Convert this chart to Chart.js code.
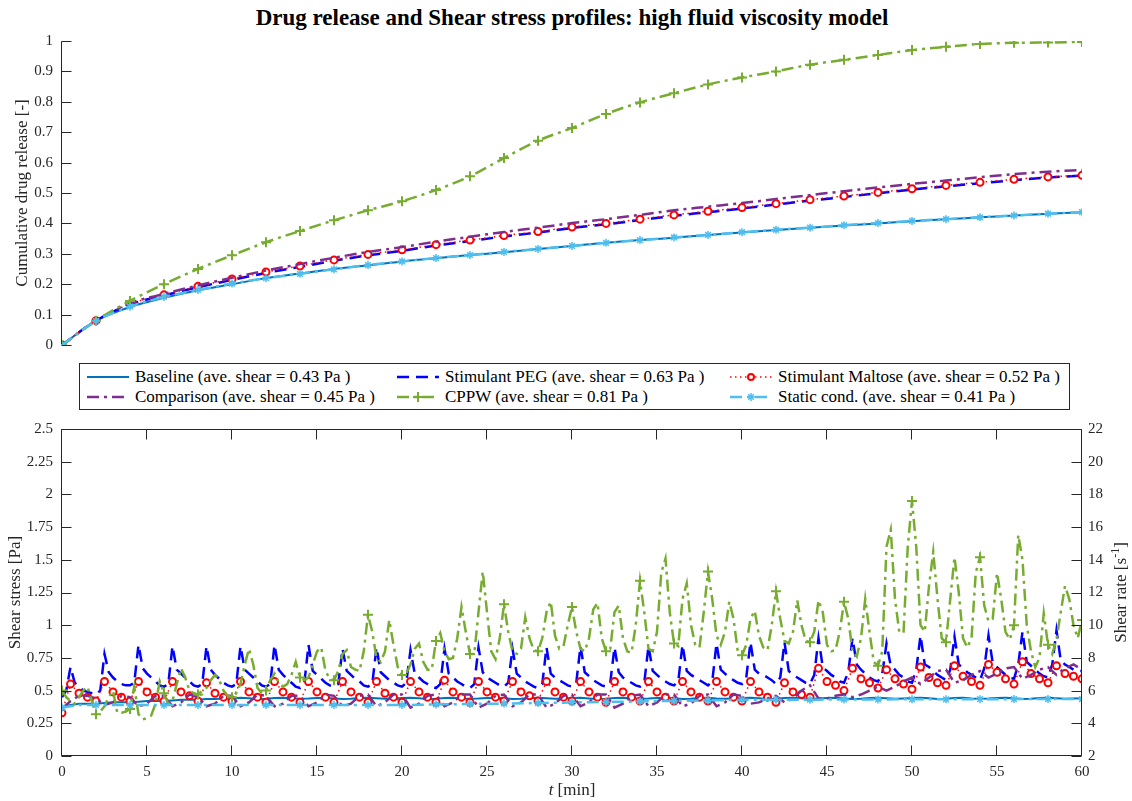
<!DOCTYPE html>
<html>
<head>
<meta charset="utf-8">
<title>Drug release and Shear stress profiles</title>
<script src="https://cdn.jsdelivr.net/npm/chart.js@4.4.1/dist/chart.umd.min.js"></script>
<style>
  html, body { margin: 0; padding: 0; background: #fff; }
  body { position: relative; width: 1132px; height: 801px; overflow: hidden;
         font-family: "Liberation Serif", "Times New Roman", serif; color: #262626; }
  #title { position: absolute; left: 0; top: 5px; width: 1144px; text-align: center;
           font-size: 23px; font-weight: bold; color: #000; line-height: 26px; }
  canvas { position: absolute; left: 0; }
  #cTop { top: 0; }
  #cBottom { top: 410px; }
  #legend { position: absolute; left: 79px; top: 363px; width: 989px; height: 45px;
            border: 1px solid #262626; background: #fff; }
  .item { position: absolute; display: flex; align-items: center; height: 20px;
          font-size: 17px; white-space: nowrap; color: #000; }
  .item svg { margin-right: 6px; }
</style>
</head>
<body>
<div id="title">Drug release and Shear stress profiles: high fluid viscosity model</div>
<canvas id="cTop" width="1132" height="363"></canvas>
<canvas id="cBottom" width="1132" height="391"></canvas>
<div id="legend"></div>

<script>
// ---- series names (legend order) ----
const seriesNames = [
  'Baseline (ave. shear = 0.43 Pa )',
  'Stimulant PEG (ave. shear = 0.63 Pa )',
  'Stimulant Maltose (ave. shear = 0.52 Pa )',
  'Comparison (ave. shear = 0.45 Pa )',
  'CPPW (ave. shear = 0.81 Pa )',
  'Static cond. (ave. shear = 0.41 Pa )'
];

// ---- top panel: cumulative drug release, sampled every 2 min ----
const tTop = [0, 2, 4, 6, 8, 10, 12, 14, 16, 18, 20, 22, 24, 26, 28, 30,
              32, 34, 36, 38, 40, 42, 44, 46, 48, 50, 52, 54, 56, 58, 60];
const relBaseline = [0, 0.08, 0.125, 0.155, 0.18, 0.2, 0.22, 0.235, 0.25, 0.262, 0.275, 0.285, 0.296, 0.305, 0.316, 0.326,
                     0.336, 0.345, 0.353, 0.362, 0.37, 0.378, 0.386, 0.393, 0.4, 0.407, 0.414, 0.42, 0.426, 0.432, 0.437];
const relPeg = [0, 0.08, 0.133, 0.163, 0.19, 0.214, 0.237, 0.257, 0.277, 0.295, 0.31, 0.327, 0.342, 0.357, 0.37, 0.385,
                0.397, 0.411, 0.425, 0.437, 0.449, 0.462, 0.475, 0.487, 0.499, 0.511, 0.522, 0.532, 0.542, 0.551, 0.557];
const relMaltose = [0, 0.08, 0.135, 0.165, 0.193, 0.217, 0.24, 0.26, 0.28, 0.298, 0.313, 0.33, 0.345, 0.36, 0.373, 0.388,
                    0.4, 0.414, 0.428, 0.44, 0.452, 0.465, 0.478, 0.49, 0.502, 0.514, 0.525, 0.535, 0.545, 0.553, 0.558];
const relComparison = [0, 0.08, 0.137, 0.168, 0.196, 0.221, 0.245, 0.266, 0.287, 0.306, 0.322, 0.34, 0.356, 0.372, 0.386, 0.401,
                       0.414, 0.428, 0.443, 0.455, 0.467, 0.48, 0.493, 0.506, 0.518, 0.53, 0.541, 0.552, 0.562, 0.57, 0.576];
const relCppw = [0, 0.08, 0.145, 0.2, 0.25, 0.295, 0.338, 0.375, 0.41, 0.443, 0.473, 0.51, 0.555, 0.615, 0.672, 0.714,
                 0.76, 0.798, 0.828, 0.857, 0.88, 0.9, 0.922, 0.938, 0.954, 0.97, 0.981, 0.99, 0.994, 0.995, 0.997];
const relStatic = [0, 0.079, 0.126, 0.158, 0.181, 0.202, 0.22, 0.234, 0.249, 0.263, 0.275, 0.286, 0.296, 0.306, 0.316, 0.326,
                   0.336, 0.345, 0.354, 0.362, 0.371, 0.379, 0.386, 0.394, 0.401, 0.408, 0.414, 0.42, 0.426, 0.432, 0.437];

// ---- bottom panel: shear stress [Pa] ----
// sample times: every 0.5 min and every 0.25 min
const tHalf = Array.from({ length: 121 }, (_, i) => i * 0.5);
const tQuarter = Array.from({ length: 241 }, (_, i) => i * 0.25);

const shearBaseline = [ // every 0.5 min
  0.37, 0.39, 0.4, 0.4, 0.4, 0.405, 0.41, 0.41, 0.41, 0.415, 0.42, 0.42, 0.42, 0.425, 0.43, 0.43, 0.43, 0.435, 0.435, 0.44,
  0.44, 0.445, 0.442, 0.436, 0.438, 0.443, 0.446, 0.441, 0.437, 0.439, 0.444, 0.445, 0.44, 0.436, 0.438, 0.443, 0.445, 0.441, 0.437, 0.44,
  0.444, 0.446, 0.441, 0.436, 0.438, 0.443, 0.445, 0.44, 0.437, 0.439, 0.444, 0.445, 0.441, 0.436, 0.438, 0.443, 0.446, 0.441, 0.437, 0.44,
  0.444, 0.445, 0.44, 0.436, 0.438, 0.443, 0.445, 0.441, 0.437, 0.439, 0.444, 0.446, 0.441, 0.436, 0.438, 0.443, 0.445, 0.44, 0.437, 0.44,
  0.444, 0.445, 0.441, 0.436, 0.438, 0.443, 0.446, 0.441, 0.437, 0.439, 0.444, 0.445, 0.44, 0.436, 0.438, 0.443, 0.445, 0.441, 0.437, 0.44,
  0.444, 0.446, 0.441, 0.436, 0.438, 0.443, 0.445, 0.44, 0.437, 0.439, 0.444, 0.445, 0.441, 0.436, 0.438, 0.443, 0.446, 0.441, 0.437, 0.44,
  0.442
];
const shearPeg = [ // every 0.25 min
  0.45, 0.5, 0.68, 0.56, 0.53, 0.5, 0.49, 0.48,
  0.47, 0.5, 0.78, 0.64, 0.6, 0.57, 0.55, 0.54,
  0.54, 0.56, 0.85, 0.67, 0.63, 0.6, 0.57, 0.54,
  0.53, 0.55, 0.84, 0.66, 0.63, 0.6, 0.57, 0.54,
  0.53, 0.55, 0.84, 0.66, 0.62, 0.59, 0.56, 0.54,
  0.53, 0.55, 0.84, 0.66, 0.63, 0.6, 0.57, 0.54,
  0.53, 0.55, 0.85, 0.66, 0.62, 0.59, 0.56, 0.53,
  0.52, 0.55, 0.85, 0.65, 0.62, 0.59, 0.56, 0.54,
  0.53, 0.55, 0.82, 0.65, 0.62, 0.59, 0.57, 0.54,
  0.53, 0.55, 0.83, 0.64, 0.61, 0.58, 0.56, 0.54,
  0.53, 0.56, 0.81, 0.63, 0.6, 0.57, 0.55, 0.53,
  0.52, 0.55, 0.82, 0.63, 0.6, 0.57, 0.55, 0.53,
  0.52, 0.55, 0.83, 0.64, 0.6, 0.58, 0.56, 0.54,
  0.53, 0.56, 0.82, 0.63, 0.6, 0.57, 0.55, 0.53,
  0.52, 0.55, 0.83, 0.63, 0.6, 0.58, 0.56, 0.54,
  0.53, 0.56, 0.84, 0.64, 0.61, 0.58, 0.56, 0.54,
  0.53, 0.56, 0.83, 0.64, 0.6, 0.58, 0.56, 0.54,
  0.53, 0.56, 0.84, 0.65, 0.62, 0.59, 0.57, 0.55,
  0.54, 0.57, 0.85, 0.65, 0.62, 0.6, 0.58, 0.56,
  0.54, 0.57, 0.86, 0.66, 0.63, 0.6, 0.58, 0.56,
  0.55, 0.6, 0.87, 0.66, 0.63, 0.62, 0.6, 0.58,
  0.55, 0.6, 0.87, 0.65, 0.62, 0.6, 0.58, 0.56,
  0.55, 0.62, 0.9, 0.68, 0.65, 0.62, 0.6, 0.57,
  0.56, 0.64, 0.9, 0.7, 0.66, 0.63, 0.6, 0.58,
  0.57, 0.63, 0.86, 0.69, 0.66, 0.62, 0.6, 0.57,
  0.56, 0.66, 0.92, 0.7, 0.68, 0.65, 0.62, 0.6,
  0.58, 0.66, 0.91, 0.7, 0.67, 0.64, 0.62, 0.6,
  0.58, 0.67, 0.92, 0.71, 0.68, 0.65, 0.62, 0.6,
  0.59, 0.7, 0.95, 0.72, 0.69, 0.66, 0.63, 0.61,
  0.6, 0.7, 0.96, 0.73, 0.7, 0.68, 0.66, 0.65,
  0.65
];
const shearMaltose = [ // every 0.5 min
  0.33, 0.55, 0.48, 0.45, 0.42, 0.57, 0.49, 0.45, 0.42, 0.57, 0.49, 0.45, 0.42, 0.57, 0.49, 0.46,
  0.42, 0.56, 0.48, 0.45, 0.42, 0.57, 0.49, 0.45, 0.41, 0.57, 0.49, 0.45, 0.41, 0.57, 0.49, 0.45,
  0.41, 0.57, 0.49, 0.45, 0.41, 0.57, 0.48, 0.45, 0.41, 0.57, 0.49, 0.45, 0.41, 0.58, 0.49, 0.45,
  0.41, 0.57, 0.49, 0.45, 0.42, 0.57, 0.49, 0.46, 0.42, 0.57, 0.49, 0.45, 0.42, 0.57, 0.49, 0.45,
  0.41, 0.57, 0.49, 0.45, 0.42, 0.57, 0.49, 0.45, 0.42, 0.57, 0.49, 0.45, 0.42, 0.57, 0.49, 0.45,
  0.42, 0.57, 0.49, 0.45, 0.41, 0.56, 0.49, 0.47, 0.45, 0.67, 0.57, 0.54, 0.5, 0.67, 0.59, 0.56,
  0.52, 0.66, 0.59, 0.55, 0.51, 0.68, 0.6, 0.56, 0.54, 0.69, 0.61, 0.57, 0.54, 0.7, 0.64, 0.59,
  0.55, 0.72, 0.63, 0.59, 0.56, 0.69, 0.63, 0.61, 0.59
];
const shearComparison = [ // every 0.5 min
  0.36, 0.42, 0.46, 0.46, 0.44, 0.39, 0.41, 0.46, 0.45, 0.38, 0.4, 0.46, 0.46, 0.38, 0.41, 0.47,
  0.45, 0.38, 0.4, 0.46, 0.46, 0.38, 0.41, 0.47, 0.46, 0.38, 0.4, 0.46, 0.46, 0.38, 0.41, 0.47,
  0.46, 0.38, 0.4, 0.46, 0.47, 0.38, 0.41, 0.47, 0.47, 0.37, 0.4, 0.46, 0.47, 0.38, 0.41, 0.47,
  0.47, 0.37, 0.4, 0.46, 0.47, 0.38, 0.41, 0.47, 0.47, 0.37, 0.4, 0.46, 0.47, 0.38, 0.41, 0.47,
  0.47, 0.37, 0.4, 0.46, 0.47, 0.38, 0.41, 0.47, 0.47, 0.38, 0.4, 0.46, 0.47, 0.38, 0.41, 0.47,
  0.46, 0.4, 0.41, 0.44, 0.46, 0.41, 0.44, 0.5, 0.54, 0.44, 0.44, 0.46, 0.47, 0.45, 0.47, 0.5,
  0.53, 0.5, 0.53, 0.57, 0.6, 0.55, 0.6, 0.65, 0.66, 0.56, 0.58, 0.62, 0.65, 0.6, 0.63, 0.67,
  0.68, 0.59, 0.62, 0.66, 0.68, 0.62, 0.67, 0.7, 0.66
];
const shearCppw = [ // every 0.25 min
  0.5, 0.45, 0.42, 0.4, 0.45, 0.5, 0.53, 0.42,
  0.32, 0.34, 0.38, 0.45, 0.5, 0.33, 0.33, 0.34,
  0.36, 0.53, 0.32, 0.28, 0.29, 0.31, 0.4, 0.57,
  0.48, 0.4, 0.42, 0.55, 0.67, 0.6, 0.5, 0.48,
  0.47, 0.5, 0.52, 0.58, 0.62, 0.58, 0.5, 0.46,
  0.45, 0.48, 0.55, 0.7, 0.82, 0.7, 0.52, 0.48,
  0.5, 0.58, 0.63, 0.56, 0.53, 0.55, 0.62, 0.72,
  0.6, 0.58, 0.6, 0.7, 0.8, 0.83, 0.65, 0.59,
  0.58, 0.65, 0.78, 0.81, 0.68, 0.66, 0.65, 0.8,
  1.08, 0.95, 0.75, 0.72, 0.8, 1.04, 0.85, 0.68,
  0.62, 0.63, 0.7, 0.82, 0.86, 0.72, 0.66, 0.66,
  0.88, 0.94, 0.8, 0.74, 0.75, 0.9, 1.14, 0.95,
  0.78, 0.78, 1.1, 1.41, 1.1, 0.8, 0.74, 0.9,
  1.16, 0.95, 0.8, 0.78, 0.82, 1.06, 0.9, 0.81,
  0.8, 0.9, 1.1, 1.18, 0.92, 0.82, 0.84, 1.0,
  1.14, 0.95, 0.82, 0.8, 0.9, 1.12, 1.17, 0.9,
  0.8, 0.82, 1.1, 1.15, 0.9, 0.8, 0.79, 1.0,
  1.34, 1.1, 0.82, 0.8, 0.95, 1.4, 1.51, 1.1,
  0.86, 0.84, 1.2, 1.32, 1.0, 0.85, 0.83, 1.1,
  1.41, 1.2, 0.92, 0.85, 0.95, 1.18, 1.05, 0.8,
  0.77, 0.85, 1.05, 1.11, 0.92, 0.83, 0.81, 1.0,
  1.26, 1.05, 0.88, 0.86, 0.95, 1.19, 1.0, 0.88,
  0.87, 0.95, 1.19, 1.1, 0.85, 0.8, 0.81, 0.95,
  1.18, 1.05, 0.8, 0.76, 0.9, 1.2, 0.95, 0.72,
  0.69, 0.8, 1.6, 1.73, 1.2, 0.95, 0.94, 1.6,
  1.95, 1.6, 1.0, 0.95, 1.3, 1.56, 1.2, 0.9,
  0.87, 1.2, 1.52, 1.25, 0.9, 0.83, 0.9, 1.4,
  1.52, 1.15, 1.03, 1.05, 1.4, 1.2, 0.95, 0.89,
  1.0, 1.69, 1.5, 1.0, 0.8, 0.68, 0.75, 1.09,
  0.85, 0.78, 0.89, 1.1, 1.3, 1.2, 1.0, 0.9,
  1.04
];
const shearStatic = [ // every 0.5 min
  0.37, 0.38, 0.39, 0.39, 0.39, 0.39, 0.39, 0.39, 0.39, 0.39, 0.39, 0.39, 0.39, 0.39, 0.39, 0.39, 0.39, 0.39, 0.39, 0.39,
  0.39, 0.39, 0.39, 0.39, 0.39, 0.39, 0.39, 0.39, 0.39, 0.39, 0.39, 0.39, 0.39, 0.39, 0.39, 0.39, 0.39, 0.39, 0.39, 0.39,
  0.39, 0.39, 0.392, 0.393, 0.394, 0.395, 0.396, 0.397, 0.398, 0.399, 0.4, 0.4, 0.401, 0.402, 0.403, 0.404, 0.405, 0.406, 0.407, 0.408,
  0.41, 0.41, 0.411, 0.412, 0.413, 0.414, 0.415, 0.416, 0.417, 0.418, 0.42, 0.42, 0.421, 0.422, 0.423, 0.424, 0.425, 0.426, 0.427, 0.428,
  0.43, 0.43, 0.43, 0.43, 0.431, 0.431, 0.431, 0.431, 0.431, 0.431, 0.432, 0.432, 0.432, 0.432, 0.432, 0.432, 0.432, 0.432, 0.433, 0.433,
  0.433, 0.433, 0.433, 0.433, 0.433, 0.434, 0.434, 0.434, 0.434, 0.434, 0.434, 0.434, 0.435, 0.435, 0.435, 0.435, 0.435, 0.435, 0.435, 0.435,
  0.435
];

// ---- styles (colour, dash, width, marker) ----
const styles = [
  { color: '#0072BD', dash: [], width: 2, marker: null },
  { color: '#0000FF', dash: [12, 7], width: 2.5, marker: null },
  { color: '#FF0000', dash: [1.5, 3.5], width: 1.5, marker: 'circle', r: 3.5, pw: 2 },
  { color: '#7E2F8E', dash: [12, 5, 3, 5], width: 2.5, marker: null },
  { color: '#77AC30', dash: [12, 5, 3, 5], width: 2.5, marker: 'cross', r: 5, pw: 2 },
  { color: '#4DBEEE', dash: [12, 5, 3, 5], width: 2.5, marker: 'star', r: 4, pw: 1.5 }
];

const FONT = '"Liberation Serif", "Times New Roman", serif';
const INK = '#262626';
const TITLE_SIZE = 17;
Chart.defaults.font.family = FONT;
Chart.defaults.color = INK;

function makeDataset(i, times, values, every, smooth) {
  const s = styles[i];
  return {
    label: seriesNames[i],
    data: times.map((t, k) => ({ x: t, y: values[k] })),
    borderColor: s.color,
    backgroundColor: s.color,
    borderWidth: s.width,
    borderDash: s.dash,
    cubicInterpolationMode: smooth ? 'monotone' : 'default',
    tension: 0,
    pointStyle: s.marker || 'circle',
    pointRadius: ctx => (s.marker && ctx.dataIndex % every === 0) ? s.r : 0,
    pointBorderColor: s.color,
    pointBackgroundColor: s.marker === 'circle' ? '#fff' : s.color,
    pointBorderWidth: s.pw || 1,
    order: 6 - i
  };
}

const fmt = v => String(+v.toFixed(2));

// MATLAB-like axes: inward ticks, optional full box and extra labels
const matlabAxes = {
  id: 'matlabAxes',
  afterDatasetsDraw(chart, _args, opts) {
    const { ctx, chartArea: a, scales } = chart;
    const L = Math.round(a.left) - 0.5, R = Math.round(a.right) - 0.5;
    const T = Math.round(a.top) + 0.5, B = Math.round(a.bottom) - 0.5;
    const tl = 10;
    ctx.save();
    ctx.strokeStyle = INK;
    ctx.lineWidth = 1;
    ctx.beginPath();
    ctx.moveTo(L, T); ctx.lineTo(L, B);
    scales.y.ticks.forEach(t => {
      const y = Math.round(scales.y.getPixelForValue(t.value)) + 0.5;
      ctx.moveTo(L, y); ctx.lineTo(L + tl, y);
    });
    if (opts.box) {
      ctx.moveTo(L, B); ctx.lineTo(R, B); ctx.lineTo(R, T); ctx.lineTo(L, T);
      scales.x.ticks.forEach(t => {
        const x = Math.round(scales.x.getPixelForValue(t.value)) - 0.5;
        ctx.moveTo(x, B); ctx.lineTo(x, B - tl);
        ctx.moveTo(x, T); ctx.lineTo(x, T + tl);
      });
      scales.y2.ticks.forEach(t => {
        const y = Math.round(scales.y2.getPixelForValue(t.value)) + 0.5;
        ctx.moveTo(R, y); ctx.lineTo(R - tl, y);
      });
    }
    ctx.stroke();

    if (opts.box) {
      const big = TITLE_SIZE + 'px ' + FONT, small = '12px ' + FONT;
      ctx.fillStyle = INK;
      ctx.textBaseline = 'middle';
      // x title: italic t [min]
      const cx = (a.left + a.right) / 2, cy = chart.height - 10;
      ctx.font = 'italic ' + big;
      const w1 = ctx.measureText('t').width;
      ctx.font = big;
      const w2 = ctx.measureText(' [min]').width;
      const x0 = cx - (w1 + w2) / 2;
      ctx.textAlign = 'left';
      ctx.font = 'italic ' + big;
      ctx.fillText('t', x0, cy);
      ctx.font = big;
      ctx.fillText(' [min]', x0 + w1, cy);

      // right title: Shear rate [s^-1]
      ctx.save();
      ctx.translate(chart.width - 10, (a.top + a.bottom) / 2);
      ctx.rotate(-Math.PI / 2);
      const p1 = 'Shear rate [s', p2 = '-1', p3 = ']';
      ctx.font = big;
      const a1 = ctx.measureText(p1).width, a3 = ctx.measureText(p3).width;
      ctx.font = small;
      const a2 = ctx.measureText(p2).width;
      let x = -(a1 + a2 + a3) / 2;
      ctx.font = big;
      ctx.fillText(p1, x, 0); x += a1;
      ctx.font = small;
      ctx.fillText(p2, x, -6); x += a2;
      ctx.font = big;
      ctx.fillText(p3, x, 0);
      ctx.restore();
    }
    ctx.restore();
  }
};

const common = {
  responsive: false,
  animation: false,
  devicePixelRatio: 1,
  events: [],
  plugins: { legend: { display: false }, tooltip: { enabled: false } }
};

// ---- top chart ----
new Chart(document.getElementById('cTop'), {
  type: 'line',
  data: {
    datasets: [
      makeDataset(0, tTop, relBaseline, 1, true),
      makeDataset(1, tTop, relPeg, 1, true),
      makeDataset(2, tTop, relMaltose, 1, true),
      makeDataset(3, tTop, relComparison, 1, true),
      makeDataset(4, tTop, relCppw, 1, true),
      makeDataset(5, tTop, relStatic, 1, true)
    ]
  },
  options: {
    ...common,
    // bottom space comes from the y-axis label padding (half label + tick padding = 18px)
    layout: { padding: { top: 41, right: 50, bottom: 0, left: 0 } },
    plugins: { ...common.plugins, matlabAxes: { box: false } },
    scales: {
      x: { type: 'linear', min: 0, max: 60, display: false },
      y: {
        min: 0, max: 1,
        afterFit: s => { s.width = 62; },
        border: { display: false },
        grid: { display: false, drawTicks: false },
        ticks: { stepSize: 0.1, padding: 9, font: { size: 15 }, color: INK, callback: fmt },
        title: { display: true, text: 'Cumulative drug release [-]', font: { size: TITLE_SIZE },
                 color: INK, padding: { top: 12, bottom: 0 } }
      }
    }
  },
  plugins: [matlabAxes]
});

// ---- bottom chart ----
new Chart(document.getElementById('cBottom'), {
  type: 'line',
  data: {
    datasets: [
      makeDataset(0, tHalf, shearBaseline, 1, false),
      makeDataset(1, tQuarter, shearPeg, 1, false),
      makeDataset(2, tHalf, shearMaltose, 1, false),
      makeDataset(3, tHalf, shearComparison, 1, false),
      makeDataset(4, tQuarter, shearCppw, 8, false),
      makeDataset(5, tHalf, shearStatic, 4, false)
    ]
  },
  options: {
    ...common,
    layout: { padding: { top: 19, right: 0, bottom: 0, left: 0 } },
    plugins: { ...common.plugins, matlabAxes: { box: true } },
    scales: {
      x: {
        type: 'linear', min: 0, max: 60, position: 'bottom',
        afterFit: s => { s.height = 45; },
        border: { display: false },
        grid: { display: false, drawTicks: false },
        ticks: { stepSize: 5, padding: 7, maxRotation: 0, autoSkip: false, font: { size: 15 }, color: INK }
      },
      y: {
        min: 0, max: 2.5, position: 'left',
        afterFit: s => { s.width = 62; },
        border: { display: false },
        grid: { display: false, drawTicks: false },
        ticks: { stepSize: 0.25, padding: 9, font: { size: 15 }, color: INK, callback: fmt },
        title: { display: true, text: 'Shear stress [Pa]', font: { size: TITLE_SIZE },
                 color: INK, padding: { top: 5, bottom: 0 } }
      },
      y2: {
        type: 'linear', min: 2, max: 22, position: 'right',
        afterFit: s => { s.width = 50; },
        border: { display: false },
        grid: { display: false, drawTicks: false },
        ticks: { stepSize: 2, padding: 6, font: { size: 15 }, color: INK, callback: fmt }
      }
    }
  },
  plugins: [matlabAxes]
});

// ---- legend (boxed, 3 columns) ----
function sampleSvg(s) {
  const dash = s.dash.length ? s.dash.join(',') : 'none';
  let m = '';
  if (s.marker === 'circle') {
    m = `<circle cx="21" cy="7" r="3" fill="#fff" stroke="${s.color}" stroke-width="2"/>`;
  } else if (s.marker === 'cross') {
    m = `<path d="M16 7H26M21 2V12" stroke="${s.color}" stroke-width="2"/>`;
  } else if (s.marker === 'star') {
    m = `<path d="M17 7H25M21 3V11M18.2 4.2L23.8 9.8M18.2 9.8L23.8 4.2" stroke="${s.color}" stroke-width="1.5"/>`;
  }
  return `<svg width="42" height="14" viewBox="0 0 42 14"><line x1="0" y1="7" x2="42" y2="7" stroke="${s.color}" ` +
         `stroke-width="${s.width}" stroke-dasharray="${dash}"/>${m}</svg>`;
}
const legendCols = [7, 317, 650];
const legendRows = [3, 23];
const legend = document.getElementById('legend');
seriesNames.forEach((name, i) => {
  const el = document.createElement('div');
  el.className = 'item';
  el.style.left = legendCols[i % 3] + 'px';
  el.style.top = legendRows[Math.floor(i / 3)] + 'px';
  el.innerHTML = sampleSvg(styles[i]) + '<span></span>';
  el.querySelector('span').textContent = name;
  legend.appendChild(el);
});
</script>
</body>
</html>
